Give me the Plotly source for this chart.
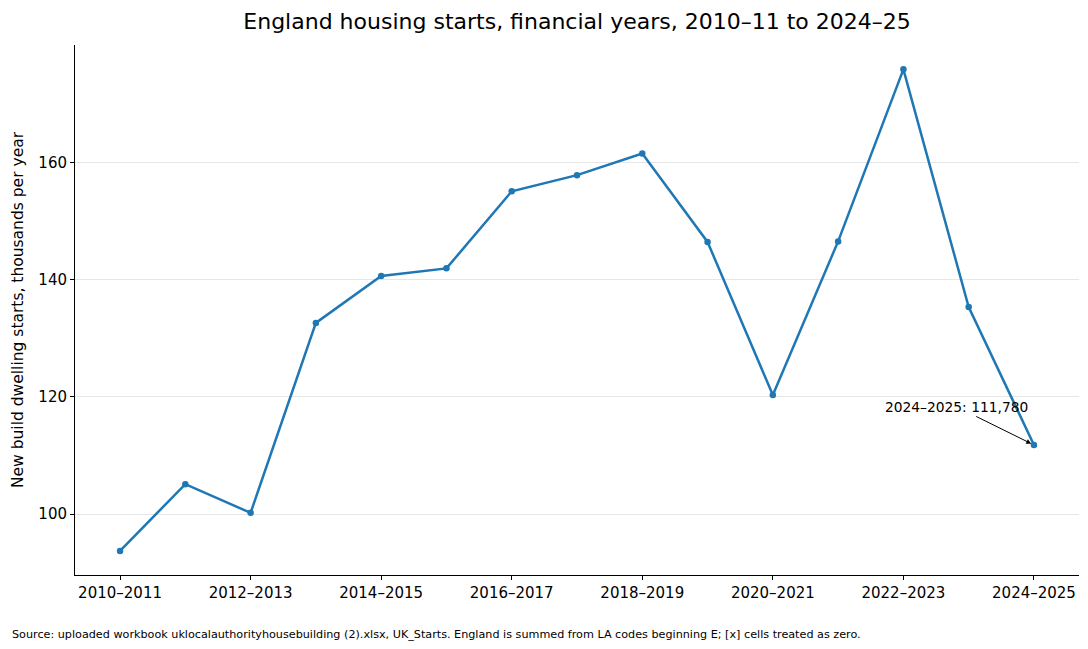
import plotly.graph_objects as go

# financial years and starts (thousands)
years = ["2010–2011", "2011–2012", "2012–2013", "2013–2014", "2014–2015",
         "2015–2016", "2016–2017", "2017–2018", "2018–2019", "2019–2020",
         "2020–2021", "2021–2022", "2022–2023", "2023–2024", "2024–2025"]
starts = [93.7, 105.1, 100.2, 132.6, 140.6, 141.9, 155.05, 157.8, 161.5,
          146.4, 120.3, 146.5, 175.85, 135.3, 111.78]

x_idx = list(range(len(years)))
tick_pos = x_idx[::2]
tick_text = years[::2]

blue = "#1f77b4"
font = "DejaVu Sans"

fig = go.Figure()
fig.add_trace(go.Scatter(x=x_idx, y=starts, mode="lines+markers",
                         line=dict(color=blue, width=2.5),
                         marker=dict(color=blue, size=6.5),
                         hoverinfo="skip"))

fig.update_xaxes(range=[-0.69, 14.69], tickvals=tick_pos, ticktext=tick_text,
                 showgrid=False, zeroline=False, showline=True, linecolor="black",
                 linewidth=1, ticks="outside", ticklen=4, tickcolor="black",
                 tickfont=dict(size=15, color="black"))
fig.update_yaxes(range=[89.6, 180.0], tickvals=[100, 120, 140, 160],
                 showgrid=True, gridcolor="#e6e6e6", gridwidth=1, zeroline=False,
                 showline=True, linecolor="black", linewidth=1,
                 ticks="outside", ticklen=4, tickcolor="black",
                 tickfont=dict(size=15, color="black"),
                 title=dict(text="New build dwelling starts, thousands per year",
                            font=dict(size=15.5, color="black"), standoff=10))

fig.add_annotation(x=x_idx[-1], y=starts[-1], xref="x", yref="y",
                   text=f"{years[-1]}: {int(round(starts[-1]*1000)):,}",
                   showarrow=True, arrowhead=2, arrowsize=1, arrowwidth=1,
                   arrowcolor="black", ax=-77, ay=-38, standoff=3,
                   font=dict(size=13.8, color="black", family=font))

# source note under the plot (plot area is 1004 x 530 px)
fig.add_annotation(x=(10 - 75) / 1004, y=-(634 - 575) / 530, xref="paper", yref="paper",
                   text="Source: uploaded workbook uklocalauthorityhousebuilding (2).xlsx, UK_Starts. "
                        "England is summed from LA codes beginning E; [x] cells treated as zero.",
                   showarrow=False, xanchor="left", yanchor="middle",
                   font=dict(size=11.2, color="black", family=font))

# page body has an 8px margin, so the figure is 8px smaller each way
fig.update_layout(
    width=1080, height=641,
    margin=dict(l=67, r=9, t=37, b=74),
    paper_bgcolor="white", plot_bgcolor="white",
    showlegend=False,
    font=dict(family=font, color="black"),
    title=dict(text="England housing starts, financial years, 2010–11 to 2024–25",
               xref="paper", x=0.5, xanchor="center", y=0.979, yanchor="middle",
               font=dict(size=22, color="black")),
)

fig.write_html("out.html")
